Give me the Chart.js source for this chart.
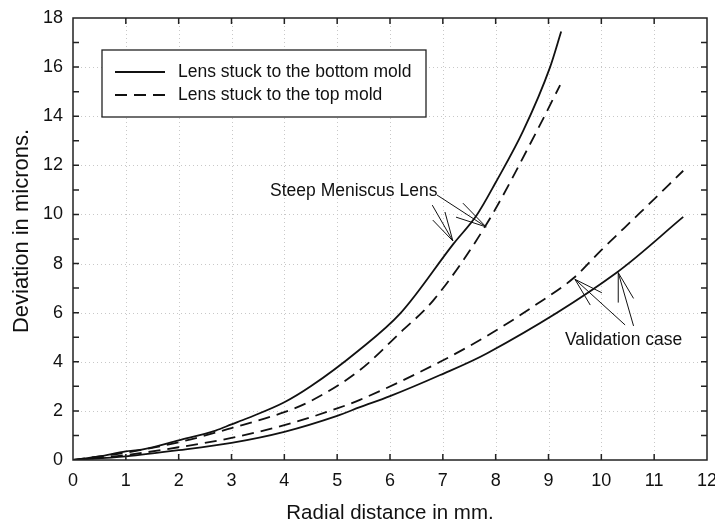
<!DOCTYPE html>
<html><head><meta charset="utf-8">
<script src="https://cdn.jsdelivr.net/npm/chart.js@4/dist/chart.umd.min.js"></script>
<style>html,body{margin:0;padding:0;background:#fff}</style>
</head><body>
<canvas id="c" width="715" height="527"></canvas>
<script>
// ---- data ----
const seriesNames = ['Lens stuck to the bottom mold', 'Lens stuck to the top mold'];

const steepBottomX = [0, 0.5, 1, 1.3, 2, 2.7, 3, 3.3, 4, 4.5, 5.4, 6.2, 7.2, 7.65, 8.0, 8.52, 9.03, 9.24];
const steepBottomY = [0, 0.15, 0.35, 0.42, 0.8, 1.2, 1.45, 1.7, 2.35, 3.0, 4.45, 5.98, 8.8, 10.0, 11.3, 13.4, 16.0, 17.45];

const steepTopX = [0, 1, 2, 3, 4, 4.5, 5.43, 6.2, 6.82, 7.84, 8.78, 9.22];
const steepTopY = [0, 0.3, 0.72, 1.3, 1.95, 2.4, 3.66, 5.2, 6.5, 9.65, 13.4, 15.27];

const validBottomX = [0, 1, 2, 3, 4, 5, 5.43, 6, 6.95, 7.84, 10.3, 11.55];
const validBottomY = [0, 0.15, 0.4, 0.7, 1.15, 1.8, 2.15, 2.6, 3.46, 4.35, 7.65, 9.9];

const validTopX = [0, 1, 2, 3, 4, 5, 5.43, 6.95, 7.95, 8.78, 9.47, 10.0, 10.73, 11.55];
const validTopY = [0, 0.2, 0.52, 0.9, 1.42, 2.1, 2.45, 4.0, 5.2, 6.35, 7.4, 8.55, 10.06, 11.78];

const xTicks = [0, 1, 2, 3, 4, 5, 6, 7, 8, 9, 10, 11, 12];
const yTicks = [0, 2, 4, 6, 8, 10, 12, 14, 16, 18];
const yMinorTicks = [1, 3, 5, 7, 9, 11, 13, 15, 17];

const xTitle = 'Radial distance in mm.';
const yTitle = 'Deviation in microns.';

// annotations (data units)
const steepLabel = 'Steep Meniscus Lens';
const steepLabelAt = [3.73, 10.95];
const validLabel = 'Validation case';
const validLabelAt = [9.31, 4.89];
const arrowTips = [[7.19, 8.92], [7.82, 9.49], [9.50, 7.36], [10.32, 7.63]];
const arrowTails = [
  [[6.80, 10.38], [7.04, 10.10], [6.81, 9.77]],
  [[6.89, 10.79], [7.38, 10.46], [7.25, 9.89]],
  [[10.01, 6.81], [9.79, 6.31], [10.45, 5.50]],
  [[10.32, 6.41], [10.61, 6.58], [10.61, 5.46]]
];

// ---- chart ----
const FONT = '"Liberation Sans", Arial, Helvetica, sans-serif';
const INK = '#111';
const DASH = [12, 7];
const pts = (xs, ys) => xs.map((x, i) => ({x, y: ys[i]}));

function lineDs(label, xs, ys, dashed) {
  return {
    label, data: pts(xs, ys), borderColor: INK, borderWidth: 1.8,
    borderDash: dashed ? DASH : [], pointRadius: 0, fill: false,
    cubicInterpolationMode: 'monotone'
  };
}

const decor = {
  id: 'decor',
  beforeDatasetsDraw(chart) {
    const {ctx, chartArea: a, scales: {x, y}} = chart;
    ctx.save();
    ctx.strokeStyle = '#c8c8c8';
    ctx.lineWidth = 1;
    ctx.setLineDash([1, 3]);
    xTicks.slice(1, -1).forEach(v => {
      const px = Math.round(x.getPixelForValue(v)) + 0.5;
      ctx.beginPath(); ctx.moveTo(px, a.top); ctx.lineTo(px, a.bottom); ctx.stroke();
    });
    yTicks.slice(1, -1).forEach(v => {
      const py = Math.round(y.getPixelForValue(v)) + 0.5;
      ctx.beginPath(); ctx.moveTo(a.left, py); ctx.lineTo(a.right, py); ctx.stroke();
    });
    ctx.restore();
  },
  afterDatasetsDraw(chart) {
    const {ctx, chartArea: a, scales: {x, y}} = chart;
    ctx.save();
    ctx.strokeStyle = '#222';
    ctx.lineWidth = 1.5;
    ctx.setLineDash([]);
    ctx.strokeRect(a.left, a.top, a.right - a.left, a.bottom - a.top);
    const L = 6;
    ctx.beginPath();
    xTicks.slice(1, -1).forEach(v => {
      const px = x.getPixelForValue(v);
      ctx.moveTo(px, a.bottom); ctx.lineTo(px, a.bottom - L);
      ctx.moveTo(px, a.top); ctx.lineTo(px, a.top + L);
    });
    yTicks.slice(1, -1).concat(yMinorTicks).forEach(v => {
      const py = y.getPixelForValue(v);
      ctx.moveTo(a.left, py); ctx.lineTo(a.left + L, py);
      ctx.moveTo(a.right, py); ctx.lineTo(a.right - L, py);
    });
    ctx.stroke();

    // arrows
    ctx.lineWidth = 1;
    ctx.strokeStyle = INK;
    ctx.beginPath();
    arrowTips.forEach((t, i) => {
      const tx = x.getPixelForValue(t[0]), ty = y.getPixelForValue(t[1]);
      arrowTails[i].forEach(s => {
        ctx.moveTo(x.getPixelForValue(s[0]), y.getPixelForValue(s[1]));
        ctx.lineTo(tx, ty);
      });
    });
    ctx.stroke();

    // annotation text
    ctx.fillStyle = INK;
    ctx.font = '17.5px ' + FONT;
    ctx.textBaseline = 'middle';
    ctx.textAlign = 'left';
    ctx.fillText(steepLabel, x.getPixelForValue(steepLabelAt[0]), y.getPixelForValue(steepLabelAt[1]));
    ctx.fillText(validLabel, x.getPixelForValue(validLabelAt[0]), y.getPixelForValue(validLabelAt[1]));

    // legend box
    const bx = a.left + 29, by = a.top + 32, bw = 324, bh = 67;
    ctx.fillStyle = '#fff';
    ctx.fillRect(bx, by, bw, bh);
    ctx.strokeStyle = '#222';
    ctx.lineWidth = 1.3;
    ctx.strokeRect(bx, by, bw, bh);
    ctx.strokeStyle = INK;
    ctx.lineWidth = 1.8;
    [false, true].forEach((dashed, i) => {
      const ly = by + 22 + i * 23;
      ctx.setLineDash(dashed ? DASH : []);
      ctx.beginPath(); ctx.moveTo(bx + 13, ly); ctx.lineTo(bx + 63, ly); ctx.stroke();
      ctx.setLineDash([]);
      ctx.fillStyle = INK;
      ctx.fillText(seriesNames[i], bx + 76, ly);
    });

    // y axis title
    ctx.save();
    ctx.translate(22, (a.top + a.bottom) / 2 - 8);
    ctx.rotate(-Math.PI / 2);
    ctx.font = '22px ' + FONT;
    ctx.textAlign = 'center';
    ctx.textBaseline = 'middle';
    ctx.fillText(yTitle, 0, 0);
    ctx.restore();
    ctx.restore();
  }
};

new Chart(document.getElementById('c'), {
  type: 'line',
  data: {
    datasets: [
      lineDs(seriesNames[0], steepBottomX, steepBottomY, false),
      lineDs(seriesNames[1], steepTopX, steepTopY, true),
      lineDs(seriesNames[0] + ' (validation)', validBottomX, validBottomY, false),
      lineDs(seriesNames[1] + ' (validation)', validTopX, validTopY, true)
    ]
  },
  options: {
    responsive: false,
    animation: false,
    devicePixelRatio: 1,
    layout: {padding: {left: 0, top: 18, right: 8, bottom: 0}},
    plugins: {legend: {display: false}, tooltip: {enabled: false}},
    scales: {
      x: {
        type: 'linear', min: 0, max: 12,
        afterBuildTicks: s => { s.ticks = xTicks.map(v => ({value: v})); },
        afterFit: s => { s.height = 67; s.paddingLeft = 0; s.paddingRight = 0; },
        grid: {display: false}, border: {display: false},
        ticks: {color: INK, font: {family: FONT, size: 18}, padding: 2, maxRotation: 0, autoSkip: false},
        title: {display: true, text: xTitle, color: INK, font: {family: FONT, size: 20.5}, padding: {top: 0, bottom: 1}}
      },
      y: {
        type: 'linear', min: 0, max: 18,
        afterBuildTicks: s => { s.ticks = yTicks.map(v => ({value: v})); },
        afterFit: s => { s.width = 73; s.paddingTop = 0; s.paddingBottom = 0; },
        grid: {display: false}, border: {display: false},
        ticks: {color: INK, font: {family: FONT, size: 18}, padding: 2, autoSkip: false},
        title: {display: false, text: yTitle}
      }
    }
  },
  plugins: [decor]
});
</script>
</body></html>
